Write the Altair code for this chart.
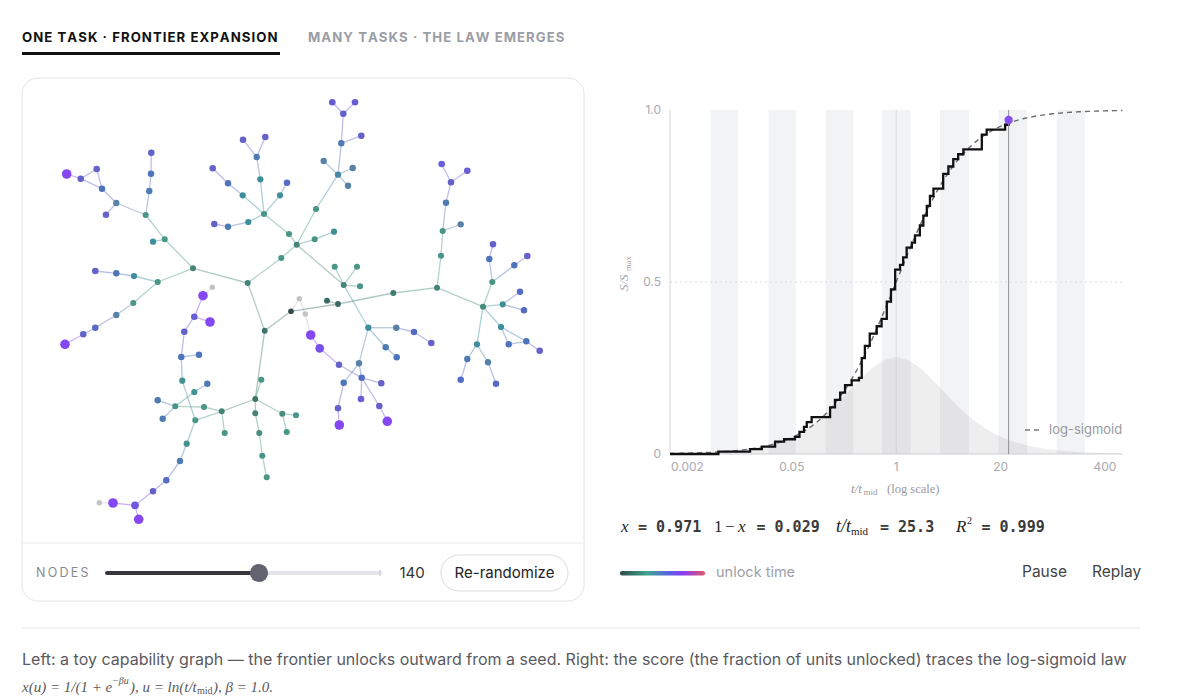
import numpy as np
import pandas as pd
import altair as alt

# ---------------------------------------------------------------------------
# Capability graph: node layout (layout units), unlock level (0 = seed,
# 10 = most recent, -1 = still locked) and edges.
# ---------------------------------------------------------------------------
NODE_ID = [1, 2, 3, 4, 5, 6, 7, 8, 9, 10, 11, 12, 13, 14, 15, 16, 17, 18, 19, 20,
           21, 22, 23, 24, 25, 26, 27, 28, 29, 30, 31, 32, 33, 34, 35, 36, 37, 38, 39, 40,
           41, 42, 43, 44, 45, 46, 47, 50, 53, 54, 56, 57, 58, 59, 60, 61, 62, 63, 64, 65,
           66, 67, 68, 69, 70, 71, 72, 73, 74, 75, 76, 77, 78, 79, 80, 81, 82, 83, 84, 85,
           86, 87, 88, 89, 94, 95, 96, 97, 98, 99, 100, 101, 102, 103, 104, 105, 106, 107, 108, 109,
           110, 111, 112, 113, 114, 115, 116, 117, 118, 119, 120, 121, 122, 123, 124, 125, 126, 127, 128, 129,
           130, 131, 132, 133, 134, 135, 136, 137, 138, 139, 140, 141, 142, 143, 144, 145, 146, 147, 148, 149]
NODE_X = [66.7, 80.7, 96.7, 102, 116.3, 106, 145.7, 151.3, 151, 149.3, 164.7, 153, 193, 95.3, 116.3, 134, 157.7, 133.3, 116.3, 247.7,
          212.3, 203, 243, 265.3, 256.7, 260.3, 212.7, 228, 242.7, 287, 280, 264, 214.3, 228, 248.3, 289, 296.7, 281.3, 332.3, 355,
          343.3, 361.3, 341.3, 323.7, 352.7, 338, 348, 316, 314.7, 334, 334.7, 357, 343.7, 360, 393.3, 437, 338, 327, 291, 299.3,
          305.3, 441.7, 467.3, 451, 446, 460.7, 442.7, 441, 493, 489.3, 527.3, 514.3, 492.3, 520, 502.7, 524, 483, 95.3, 83.3, 65,
          194.3, 210, 184.3, 264.7, 181.3, 199, 182.3, 261.3, 194.3, 207.3, 157.7, 175.3, 204, 221.7, 255.3, 162.7, 195.3, 224.7, 255.3, 282.3,
          296, 286.7, 259.3, 186.7, 262.3, 180, 266.7, 166.3, 153, 135, 113, 99.3, 138.7, 310.7, 319.7, 339, 368.3, 396.3, 414, 431.3,
          385.7, 396.7, 359, 361.7, 381.3, 343.7, 361, 379.3, 387.3, 338, 339.3, 501, 526.3, 539.7, 508.7, 477, 467.3, 488, 460.7, 496]
NODE_Y = [174, 178.7, 169, 188.7, 203, 214.7, 215, 152.7, 173.7, 191, 239.3, 241.7, 268.3, 271, 273.3, 276, 282, 303, 315, 283,
          287.3, 295.7, 139.7, 137, 157, 179.3, 168.3, 183.3, 195.3, 182.7, 195.3, 214, 224, 226.7, 222, 234, 244.7, 258, 102.3, 102.3,
          113.7, 135.7, 143.3, 161, 168, 174.7, 185.7, 209, 239.3, 231.7, 266.7, 266.7, 285, 286.3, 293, 287.7, 304, 300.7, 311.3, 298.7,
          314, 164, 170.7, 182.3, 202.7, 224.3, 231, 255.7, 244.3, 259, 256, 265.3, 282, 291.7, 304.3, 310.3, 306.7, 327.7, 334.3, 344.3,
          316.7, 322, 331.7, 330.7, 357, 354.7, 380.7, 379.7, 392, 383.7, 400.3, 406.3, 407, 411.3, 399, 418.7, 420.3, 433, 413.3, 413.7,
          415.3, 432, 433, 443.7, 455.7, 461, 477.3, 480.3, 491.3, 505.3, 503, 502.7, 519.3, 335, 348.3, 364.7, 327.7, 327.7, 332, 343,
          347.3, 357.3, 363.3, 377.7, 383.3, 382.7, 399, 406, 421.3, 408.3, 425, 327, 341.3, 350.7, 344.3, 344.3, 359, 362.3, 379.7, 383.7]
NODE_LEVEL = [10, 8, 8, 7, 6, 8, 4, 8, 7, 6.5, 4, 5, 3, 8, 7, 5, 4, 4, 6, 3,
              -1, 10, 8, 8, 6.5, 5, 8, 7, 5, 7.5, 5, 4, 8, 6.5, 5, 4, 3, 4, 8.5, 8.5,
              8, 8, 6.5, 6, 6, 5.5, 6, 4, 4, 4.5, 4, 4, 3, 4, 2.5, 3, 1.5, 1.5, 0, -1,
              -1, 8.5, 8.5, 8, 6.5, 6, 4, 4, 8, 7, 8, 7, 4, 7.5, 4.5, 7.5, 3.5, 7.5, 8, 10,
              8.5, 10, 8, 2, 7, 7, 4.5, 4, 4.5, 6.5, 6.5, 4, 4, 3, 2, 6.5, 4, 4, 3, 3.5,
              4, 4, 3.5, 4.5, 4, 6.5, 4, 7.5, 8, 9, 10, -1, 10, 10, 9.5, 8, 5, 6, 7.5, 8,
              6.5, 7, 6, 7.5, 8, 7, 8.5, 8, 10, 8, 10, 5, 7, 8, 7, 5, 6.5, 6, 7.5, 7.5]
EDGES = [(1, 2), (2, 3), (3, 4), (2, 4), (4, 5), (5, 6), (5, 7), (7, 10), (10, 9), (9, 8),
         (7, 11), (11, 12), (11, 13), (13, 17), (17, 16), (16, 15), (15, 14), (17, 18), (18, 19),
         (19, 83), (83, 84), (84, 85), (13, 20), (20, 38), (38, 37), (37, 36), (36, 32), (32, 29),
         (29, 28), (28, 27), (32, 26), (26, 25), (25, 23), (25, 24), (32, 31), (31, 30), (32, 35),
         (35, 34), (34, 33), (37, 50), (50, 46), (46, 44), (46, 45), (46, 47), (46, 43), (43, 42),
         (43, 41), (41, 39), (41, 40), (37, 53), (53, 54), (37, 58), (58, 56), (58, 57), (58, 59),
         (58, 126), (126, 127), (127, 128), (128, 129), (126, 130), (130, 131), (126, 132),
         (132, 133), (133, 134), (133, 136), (133, 137), (137, 138), (132, 135), (135, 139),
         (139, 140), (125, 133), (124, 125), (123, 124), (66, 123), (65, 66), (64, 65), (64, 62),
         (62, 63), (62, 60), (60, 61), (64, 89), (89, 20), (89, 104), (104, 97), (104, 108),
         (108, 112), (112, 114), (114, 116), (104, 109), (109, 110), (109, 111), (104, 103),
         (103, 107), (103, 106), (103, 102), (102, 101), (101, 98), (98, 99), (101, 100),
         (101, 105), (106, 96), (96, 94), (94, 88), (88, 86), (86, 22), (22, 21), (86, 87),
         (94, 95), (106, 113), (113, 115), (115, 117), (117, 118), (118, 119), (119, 120),
         (120, 121), (119, 122), (61, 73), (73, 72), (72, 70), (70, 69), (69, 67), (69, 68),
         (72, 71), (61, 82), (82, 78), (78, 75), (75, 74), (78, 77), (77, 76), (82, 80), (80, 79),
         (80, 81), (82, 141), (141, 142), (142, 143), (141, 144), (144, 142), (82, 145),
         (145, 146), (146, 148), (145, 147), (147, 149)]

# ---------------------------------------------------------------------------
# Score curve: empirical unlocked count (steps) against u = ln(t / t_mid)
# ---------------------------------------------------------------------------
N_UNITS = 140
T_NOW = 25.3
X_NOW = 0.971
R2 = 0.999
BETA = 1.0
BELL_PEAK = 0.28
STEP_U = [-6.5, -5.11, -4.20, -3.86, -3.48, -3.22, -2.91, -2.78, -2.65, -2.57, -2.43, -1.90,
          -1.76, -1.61, -1.47, -1.28, -1.07, -0.99, -0.90, -0.76, -0.56, -0.42, -0.27, -0.15,
          -0.03, 0.11, 0.20, 0.30, 0.45, 0.54, 0.68, 0.78, 0.88, 0.97, 1.07, 1.35, 1.50, 1.64,
          1.78, 1.93, 2.46, 2.60, 3.13]
STEP_COUNT = [0, 1, 2, 3, 5, 6, 7, 9, 11, 13, 15, 19, 22, 25, 28, 30, 31, 39, 44, 49, 52, 55,
              62, 67, 75, 77, 80, 84, 86, 89, 93, 97, 101, 105, 108, 114, 117, 120, 122, 124,
              130, 132, 134]
BAND_LO_U = [-5.33, -3.67, -2.03, -0.41, 1.26, 2.94, 4.61]
BAND_HI_U = [-4.55, -2.89, -1.23, 0.42, 2.09, 3.76, 5.42]
U_MIN, U_MAX = -6.5, 6.5
TICK_U = [-6, -3, 0, 3, 6]
TICK_LABELS = ["0.002", "0.05", "1", "20", "400"]
Y_TICKS = [0.0, 0.5, 1.0]
Y_LABELS = ["0", "0.5", "1.0"]

SANS = "Inter"
SERIF = "Liberation Serif"
MONO = "DejaVu Sans Mono"
BLANK = alt.Data(values=[{}])


def spaced(s, gap="\u200a"):
    """Letter-spaced caps for the tab headings."""
    return gap.join(s)


def text(s, x, y, size=15, color="#333333", font=SANS, weight="normal", style="normal",
         align="left", angle=0):
    return alt.Chart(BLANK).mark_text(
        text=s, fontSize=size, color=color, font=font, fontWeight=weight,
        fontStyle=style, align=align, baseline="middle", angle=angle,
    ).encode(x=alt.value(x), y=alt.value(y))


def rule(x1, y1, x2, y2, color, width=1.0, dash=None, cap="butt"):
    kw = dict(color=color, strokeWidth=width, strokeCap=cap)
    if dash:
        kw["strokeDash"] = dash
    return alt.Chart(BLANK).mark_rule(**kw).encode(
        x=alt.value(x1), y=alt.value(y1), x2=alt.value(x2), y2=alt.value(y2))


def box(x1, y1, x2, y2, fill, stroke=None, radius=0, width=1.0):
    kw = dict(fill=fill, cornerRadius=radius)
    if stroke:
        kw.update(stroke=stroke, strokeWidth=width)
    return alt.Chart(BLANK).mark_rect(**kw).encode(
        x=alt.value(x1), x2=alt.value(x2), y=alt.value(y1), y2=alt.value(y2))


# ----------------------------- page chrome ---------------------------------
ui = [
    text(spaced("ONE TASK · FRONTIER EXPANSION"), 22, 38, size=13.2, color="#111111", weight="bold"),
    text(spaced("MANY TASKS · THE LAW EMERGES"), 308, 38, size=13.2, color="#9b9da5", weight="bold"),
    box(22, 52, 280, 55, "#111111"),
    box(22, 78, 584, 601, "#ffffff", stroke="#e4e4e8", radius=16),
    rule(23, 543, 583, 543, "#ececef"),
    text("N\u2009O\u2009D\u2009E\u2009S", 36, 573, size=12.5, color="#8a8a92"),
    rule(258, 573, 380, 573, "#e4e4ea", width=4, cap="round"),
    rule(380, 570, 380, 576, "#c8c8ce", width=1),
    rule(107, 573, 258, 573, "#36363c", width=4, cap="round"),
    alt.Chart(BLANK).mark_circle(size=330, color="#62636f", opacity=1).encode(
        x=alt.value(259), y=alt.value(573)),
    text("140", 412, 573, size=15, color="#333333", align="center"),
    box(441, 555, 568, 591, "#ffffff", stroke="#dcdce0", radius=18),
    text("Re-randomize", 504.5, 573, size=15, color="#222222", align="center"),
    rule(22, 628, 1140, 628, "#e6e6e9"),
]

# ----------------------------- capability graph ----------------------------
nodes = pd.DataFrame({"id": NODE_ID, "gx": NODE_X, "gy": NODE_Y, "level": NODE_LEVEL})
pos = nodes.set_index("id")
edge_rows = []
for a, b in EDGES:
    la, lb = pos.loc[a, "level"], pos.loc[b, "level"]
    edge_rows.append({
        "x0": pos.loc[a, "gx"], "y0": pos.loc[a, "gy"],
        "x1": pos.loc[b, "gx"], "y1": pos.loc[b, "gy"],
        "level": -1 if min(la, lb) < 0 else max(la, lb),
    })
edges = pd.DataFrame(edge_rows)

gxs = alt.Scale(domain=[0, 600], range=[0, 600], nice=False, zero=False)
gys = alt.Scale(domain=[0, 600], range=[0, 600], nice=False, zero=False)
palette = alt.Scale(
    domain=[-1, -0.5, 0, 2, 4, 6, 8, 10],
    range=["#c3c3c8", "#c3c3c8", "#2f4b4a", "#3d7568", "#4a9686", "#5781a6", "#6461c9", "#8447f2"],
)

edge_layer = alt.Chart(edges).mark_rule(strokeWidth=1.3, opacity=0.42).encode(
    x=alt.X("x0:Q", scale=gxs, axis=None),
    y=alt.Y("y0:Q", scale=gys, axis=None),
    x2="x1:Q", y2="y1:Q",
    color=alt.Color("level:Q", scale=palette, legend=None),
)
node_layer = alt.Chart(nodes).mark_circle(opacity=1).encode(
    x=alt.X("gx:Q", scale=gxs, axis=None),
    y=alt.Y("gy:Q", scale=gys, axis=None),
    color=alt.Color("level:Q", scale=palette, legend=None),
    size=alt.Size("level:Q", scale=alt.Scale(domain=[-1, 8.5, 10], range=[30, 44, 92]), legend=None),
)
graph = alt.layer(edge_layer, node_layer)

# ----------------------------- score chart ---------------------------------
xs = alt.Scale(type="log", domain=[float(np.exp(U_MIN)), float(np.exp(U_MAX))],
               range=[670, 1122.4], nice=False)
ys = alt.Scale(domain=[0, 1], range=[454, 110], nice=False, zero=False)

u_now = float(np.log(T_NOW))
steps = pd.DataFrame({
    "t": np.exp(STEP_U + [u_now]),
    "s": np.array(STEP_COUNT + [round(X_NOW * N_UNITS)]) / N_UNITS,
})
model_u = np.linspace(U_MIN, U_MAX, 261)
model_x = 1.0 / (1.0 + np.exp(-BETA * model_u))
model = pd.DataFrame({
    "t": np.exp(model_u),
    "fit": model_x,
    "bell": BELL_PEAK * 4.0 * model_x * (1.0 - model_x),
    "zero": 0.0,
})
bands = pd.DataFrame({"t0": np.exp(BAND_LO_U), "t1": np.exp(BAND_HI_U), "v0": 0.0, "v1": 1.0})
frame = pd.DataFrame({"ta": [float(np.exp(U_MIN))], "tb": [float(np.exp(U_MAX))],
                      "tm": [1.0], "tn": [T_NOW], "xn": [X_NOW],
                      "v0": [0.0], "vh": [0.5], "v1": [1.0]})
xticks = pd.DataFrame({"t": np.exp(TICK_U), "lab": TICK_LABELS})
yticks = pd.DataFrame({"v": Y_TICKS, "lab": Y_LABELS})

X = lambda f: alt.X(f, scale=xs, axis=None)
Y = lambda f: alt.Y(f, scale=ys, axis=None)

band_layer = alt.Chart(bands).mark_rect(color="#f2f3f5").encode(
    x=X("t0:Q"), x2="t1:Q", y=Y("v0:Q"), y2="v1:Q")
mid_rule = alt.Chart(frame).mark_rule(color="#dedee2", strokeWidth=1).encode(
    x=X("tm:Q"), y=Y("v0:Q"), y2="v1:Q")
half_rule = alt.Chart(frame).mark_rule(color="#dcdce0", strokeWidth=1, strokeDash=[2, 3]).encode(
    x=X("ta:Q"), x2="tb:Q", y=Y("vh:Q"))
bell_layer = alt.Chart(model).mark_area(color="#8c8c92", opacity=0.15).encode(
    x=X("t:Q"), y=Y("bell:Q"), y2="zero:Q")
x_axis = alt.Chart(frame).mark_rule(color="#cfcfd4", strokeWidth=1).encode(
    x=X("ta:Q"), x2="tb:Q", y=Y("v0:Q"))
y_axis = alt.Chart(frame).mark_rule(color="#d6d6da", strokeWidth=1).encode(
    x=X("ta:Q"), y=Y("v0:Q"), y2="v1:Q")
fit_layer = alt.Chart(model).mark_line(color="#6b6b70", strokeWidth=1.4, strokeDash=[5, 4]).encode(
    x=X("t:Q"), y=Y("fit:Q"))
step_layer = alt.Chart(steps).mark_line(interpolate="step-after", color="#111111", strokeWidth=2.3).encode(
    x=X("t:Q"), y=Y("s:Q"))
now_rule = alt.Chart(frame).mark_rule(color="#8f8f94", strokeWidth=1).encode(
    x=X("tn:Q"), y=Y("v0:Q"), y2="v1:Q")
now_dot = alt.Chart(frame).mark_circle(color="#8a4ef0", size=70, opacity=1).encode(
    x=X("tn:Q"), y=Y("xn:Q"))
xtick_layer = alt.Chart(xticks).mark_text(font=SANS, fontSize=12, color="#a9a9b0", baseline="middle").encode(
    x=X("t:Q"), y=alt.value(467), text="lab:N")
ytick_layer = alt.Chart(yticks).mark_text(font=SANS, fontSize=12, color="#a9a9b0", align="right",
                                          baseline="middle").encode(
    x=alt.value(661), y=Y("v:Q"), text="lab:N")

score = alt.layer(band_layer, mid_rule, half_rule, bell_layer, x_axis, y_axis, fit_layer,
                  step_layer, now_rule, now_dot, xtick_layer, ytick_layer)

score_text = [
    text("S/S", 624, 291, size=13, color="#a3a3a8", font=SERIF, style="italic", angle=270),
    text("max", 628, 271, size=8.5, color="#a3a3a8", font=SERIF, angle=270),
    text("t/t", 851, 489, size=13, color="#9a9aa0", font=SERIF, style="italic"),
    text("mid", 863.5, 492, size=9, color="#9a9aa0", font=SERIF),
    text("(log scale)", 887, 489, size=12.5, color="#9a9aa0", font=SERIF),
    rule(1025, 430, 1043, 430, "#77777c", width=1.4, dash=[5, 4]),
    text("log-sigmoid", 1049, 430, size=13, color="#9a9aa0"),
]

# stats read-out (values drawn from the same constants as the marks)
stat_y = 527
stats = [
    text("x", 621, stat_y, size=17, color="#222222", font=SERIF, style="italic"),
    text(f"= {X_NOW:.3f}", 638, stat_y, size=15, color="#3a3a3a", font=MONO, weight="bold"),
    text("1", 714, stat_y, size=17, color="#222222", font=SERIF),
    text("\u2212", 725, stat_y, size=17, color="#222222", font=SERIF),
    text("x", 738, stat_y, size=17, color="#222222", font=SERIF, style="italic"),
    text(f"= {1 - X_NOW:.3f}", 756.5, stat_y, size=15, color="#3a3a3a", font=MONO, weight="bold"),
    text("t/t", 836, stat_y, size=18, color="#222222", font=SERIF, style="italic"),
    text("mid", 851, stat_y + 5, size=11, color="#222222", font=SERIF),
    text(f"= {T_NOW:.1f}", 880, stat_y, size=15, color="#3a3a3a", font=MONO, weight="bold"),
    text("R", 956, stat_y, size=17, color="#222222", font=SERIF, style="italic"),
    text("2", 967, stat_y - 6, size=10, color="#222222", font=SERIF),
    text(f"= {R2:.3f}", 981.5, stat_y, size=15, color="#3a3a3a", font=MONO, weight="bold"),
]

unlock_gradient = alt.LinearGradient(
    gradient="linear", x1=0, x2=1, y1=0, y2=0,
    stops=[alt.GradientStop(color="#2f4b4a", offset=0),
           alt.GradientStop(color="#3fa58e", offset=0.32),
           alt.GradientStop(color="#5a62e6", offset=0.58),
           alt.GradientStop(color="#8a3cf5", offset=0.74),
           alt.GradientStop(color="#e0566a", offset=1)],
)
controls = [
    alt.Chart(BLANK).mark_rect(color=unlock_gradient, cornerRadius=2).encode(
        x=alt.value(620), x2=alt.value(705), y=alt.value(571), y2=alt.value(575.5)),
    text("unlock time", 716, 573, size=14.5, color="#a0a0a8"),
    text("Pause", 1022, 572, size=15.5, color="#444444"),
    text("Replay", 1092, 572, size=15.5, color="#444444"),
]

caption = [
    text("Left: a toy capability graph \u2014 the frontier unlocks outward from a seed. "
         "Right: the score (the fraction of units unlocked) traces the log-sigmoid law",
         22, 660, size=16, color="#5a5a60"),
    text("x(u) = 1/(1 + e", 22, 687, size=15, color="#5a5a60", font=SERIF, style="italic"),
    text("\u2212\u03b2u", 112, 681, size=10, color="#5a5a60", font=SERIF, style="italic"),
    text("), u = ln(t/t", 130, 687, size=15, color="#5a5a60", font=SERIF, style="italic"),
    text("mid", 197, 691, size=10, color="#5a5a60", font=SERIF),
    text(f"), \u03b2 = {BETA:.1f}.", 213, 687, size=15, color="#5a5a60", font=SERIF, style="italic"),
]

chart = alt.layer(
    *ui, graph, score, *score_text, *stats, *controls, *caption
).resolve_scale(
    x="independent", y="independent", color="independent", size="independent"
).properties(
    width=1200, height=699, padding=0, background="#ffffff",
    autosize=alt.AutoSizeParams(type="none"),
).configure_view(stroke=None)

chart.save("out.html", embed_options={"renderer": "svg", "actions": False})
